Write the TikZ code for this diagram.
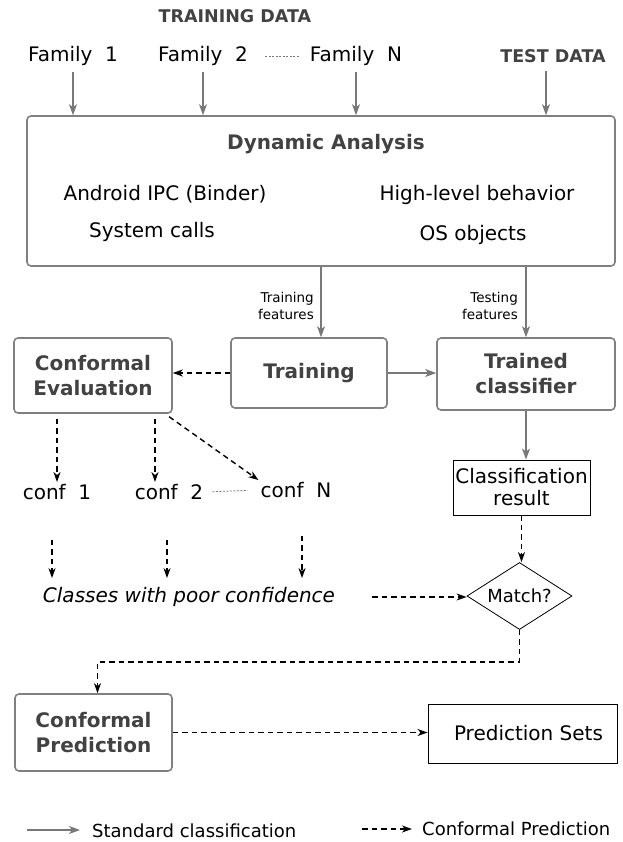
\documentclass[tikz,border=0pt]{standalone}
\usepackage{fontspec}
\setmainfont{DejaVu Sans}
\usetikzlibrary{arrows.meta,shapes.geometric}

\definecolor{boxgray}{rgb}{0.50,0.50,0.50}
\definecolor{textgray}{rgb}{0.26,0.26,0.26}
\definecolor{arrowgray}{rgb}{0.47,0.47,0.47}

\tikzset{
  stagebox/.style={draw=boxgray, line width=1.6pt, rounded corners=4pt, inner sep=0pt,
    font=\fontsize{20}{25}\selectfont\bfseries, text=textgray, align=center},
  plainbox/.style={draw=black, line width=0.9pt, inner sep=0pt,
    font=\fontsize{20}{22}\selectfont, align=center},
  txt/.style={inner sep=2pt, font=\fontsize{20}{24}\selectfont},
  boldtxt/.style={inner sep=2pt, font=\fontsize{20}{24}\selectfont\bfseries, text=textgray},
  smalltxt/.style={inner sep=1pt, font=\fontsize{13.5}{17}\selectfont, align=right, anchor=east},
  legendtxt/.style={inner sep=2pt, font=\fontsize{18}{20}\selectfont, anchor=west},
  stdarrow/.style={draw=arrowgray, line width=1.3pt, -{Stealth[length=11pt,width=8pt,inset=3pt]}},
  cparrow/.style={draw=black, line width=1.4pt, dash pattern=on 5.5pt off 4pt,
    -{Stealth[length=10pt,width=7pt,inset=3pt]}},
  dotline/.style={draw=arrowgray, line width=0.8pt, dash pattern=on 2pt off 1.5pt},
}

\begin{document}
\begin{tikzpicture}[x=1pt,y=1pt,yscale=-1,xscale=1]
		\useasboundingbox (0,0) rectangle (622,842); % same frame as the reference

		% Data sources on top
		\node[boldtxt, font=\fontsize{17.5}{20}\selectfont\bfseries] (traindata) at (235,16) {TRAINING DATA};
		\node[txt] (fam1) at (73,56) {Family\ \ 1};
		\node[txt] (fam2) at (203,56) {Family\ \ 2};
		\node[txt] (famN) at (356,56) {Family\ \ N};
		\node[boldtxt, font=\fontsize{17.5}{20}\selectfont\bfseries] (testdata) at (553,56) {TEST DATA};
		\draw[dotline, shorten <=15, shorten >=8] (fam2.east) -- (famN.west);

		% Dynamic analysis box
		\node[stagebox, minimum width=588, minimum height=150] (dyn) at (321,191) {};
		\node[boldtxt] (dyntitle) at (326,144) {Dynamic Analysis};
		\node[txt] (ipc) at (165,194) {Android IPC (Binder)};
		\node[txt] (syscalls) at (152,232) {System calls};
		\node[txt] (highlevel) at (477,195) {High-level behavior};
		\node[txt] (osobj) at (473,235) {OS objects};

		% Arrows from the data into the analysis
		\draw[stdarrow, shorten <=4] (fam1) -- (fam1 |- dyn.north);
		\draw[stdarrow, shorten <=4] (fam2) -- (fam2 |- dyn.north);
		\draw[stdarrow, shorten <=4] (famN) -- (famN |- dyn.north);
		\draw[stdarrow, shorten <=6] ([xshift=-7]testdata.south) -- ([xshift=-7]testdata.south |- dyn.north);

		% Second row of boxes
		\node[stagebox, minimum width=158, minimum height=75] (confeval) at (93,375.5) {Conformal\\Evaluation};
		\node[stagebox, minimum width=156, minimum height=70] (train) at (309,373) {Training};
		\node[stagebox, minimum width=178, minimum height=72] (trained) at (526,374) {Trained\\classifier};

		% Features going down
		\draw[stdarrow] (dyn.south) -- (dyn.south |- train.north);
		\draw[stdarrow] (trained.north |- dyn.south) -- (trained.north);
		\node[smalltxt] (trainfeat) at (315,306) {Training\\features};
		\node[smalltxt] (testfeat) at (519,306) {Testing\\features};

		% Links between the boxes of the second row
		\draw[cparrow] (train.west) -- (train.west -| confeval.east);
		\draw[stdarrow] (train.east) -- (train.east -| trained.west);

		% Classification result and match
		\node[plainbox, minimum width=137, minimum height=55] (clsres) at (521.5,487.5) {Classification\\result};
		\draw[stdarrow] (trained.south) -- (trained.south |- clsres.north);
		\node[draw, diamond, aspect=1.54, line width=0.8pt, inner sep=0pt, minimum width=105, minimum height=67,
			font=\fontsize{18}{20}\selectfont] (match) at (519.5,596) {Match?};
		\draw[cparrow] (clsres.south) -- (clsres.south |- match.north);

		% Confidence per family
		\node[txt] (conf1) at (57,492) {conf\ \ 1};
		\node[txt] (conf2) at (169,492) {conf\ \ 2};
		\node[txt] (confN) at (296,490) {conf\ \ N};
		\draw[dotline, shorten <=7, shorten >=11] (conf2.east) -- (confN.west);
		\draw[cparrow, shorten <=5] ([xshift=-36]confeval.south) -- ([xshift=-36]confeval.south |- conf1.north);
		\draw[cparrow, shorten <=5] ([xshift=62]confeval.south) -- ([xshift=62]confeval.south |- conf2.north);
		\draw[cparrow, shorten <=5] ([xshift=72]confeval.south) -- (confN.north west);

		% Classes with poor confidence
		\node[txt, font=\fontsize{20}{24}\selectfont\itshape] (classes) at (189,597) {Classes with poor confidence};
		\draw[cparrow, shorten <=38, shorten >=7] ([xshift=-5]conf1.south) -- ([xshift=-5]conf1.south |- classes.north);
		\draw[cparrow, shorten <=38, shorten >=7] ([xshift=-2]conf2.south) -- ([xshift=-2]conf2.south |- classes.north);
		\draw[cparrow, shorten <=36, shorten >=7] ([xshift=6]confN.south) -- ([xshift=6]confN.south |- classes.north);
		\draw[cparrow, shorten <=35] (classes.east) -- (classes.east -| match.west);

		% Conformal prediction
		\node[stagebox, minimum width=157, minimum height=77] (confpred) at (93.5,732.5) {Conformal\\Prediction};
		\node[plainbox, minimum width=189, minimum height=59] (predsets) at (522.5,733.5) {\hspace{12pt}Prediction Sets};
		\draw[cparrow] (match.south) -- ++(0,32) -| ([xshift=4]confpred.north);
		\draw[cparrow] (confpred.east) -- (confpred.east -| predsets.west);

		% Legend
		\coordinate (stdstart) at (27,830);
		\node[legendtxt] (stdlegend) at (90,831) {Standard classification};
		\draw[stdarrow, shorten >=10] (stdstart) -- (stdstart -| stdlegend.west);
		\coordinate (cpstart) at (362,829);
		\node[legendtxt] (cplegend) at (420,829) {Conformal Prediction};
		\draw[cparrow, shorten >=8] (cpstart) -- (cpstart -| cplegend.west);
	\end{tikzpicture}
\end{document}
